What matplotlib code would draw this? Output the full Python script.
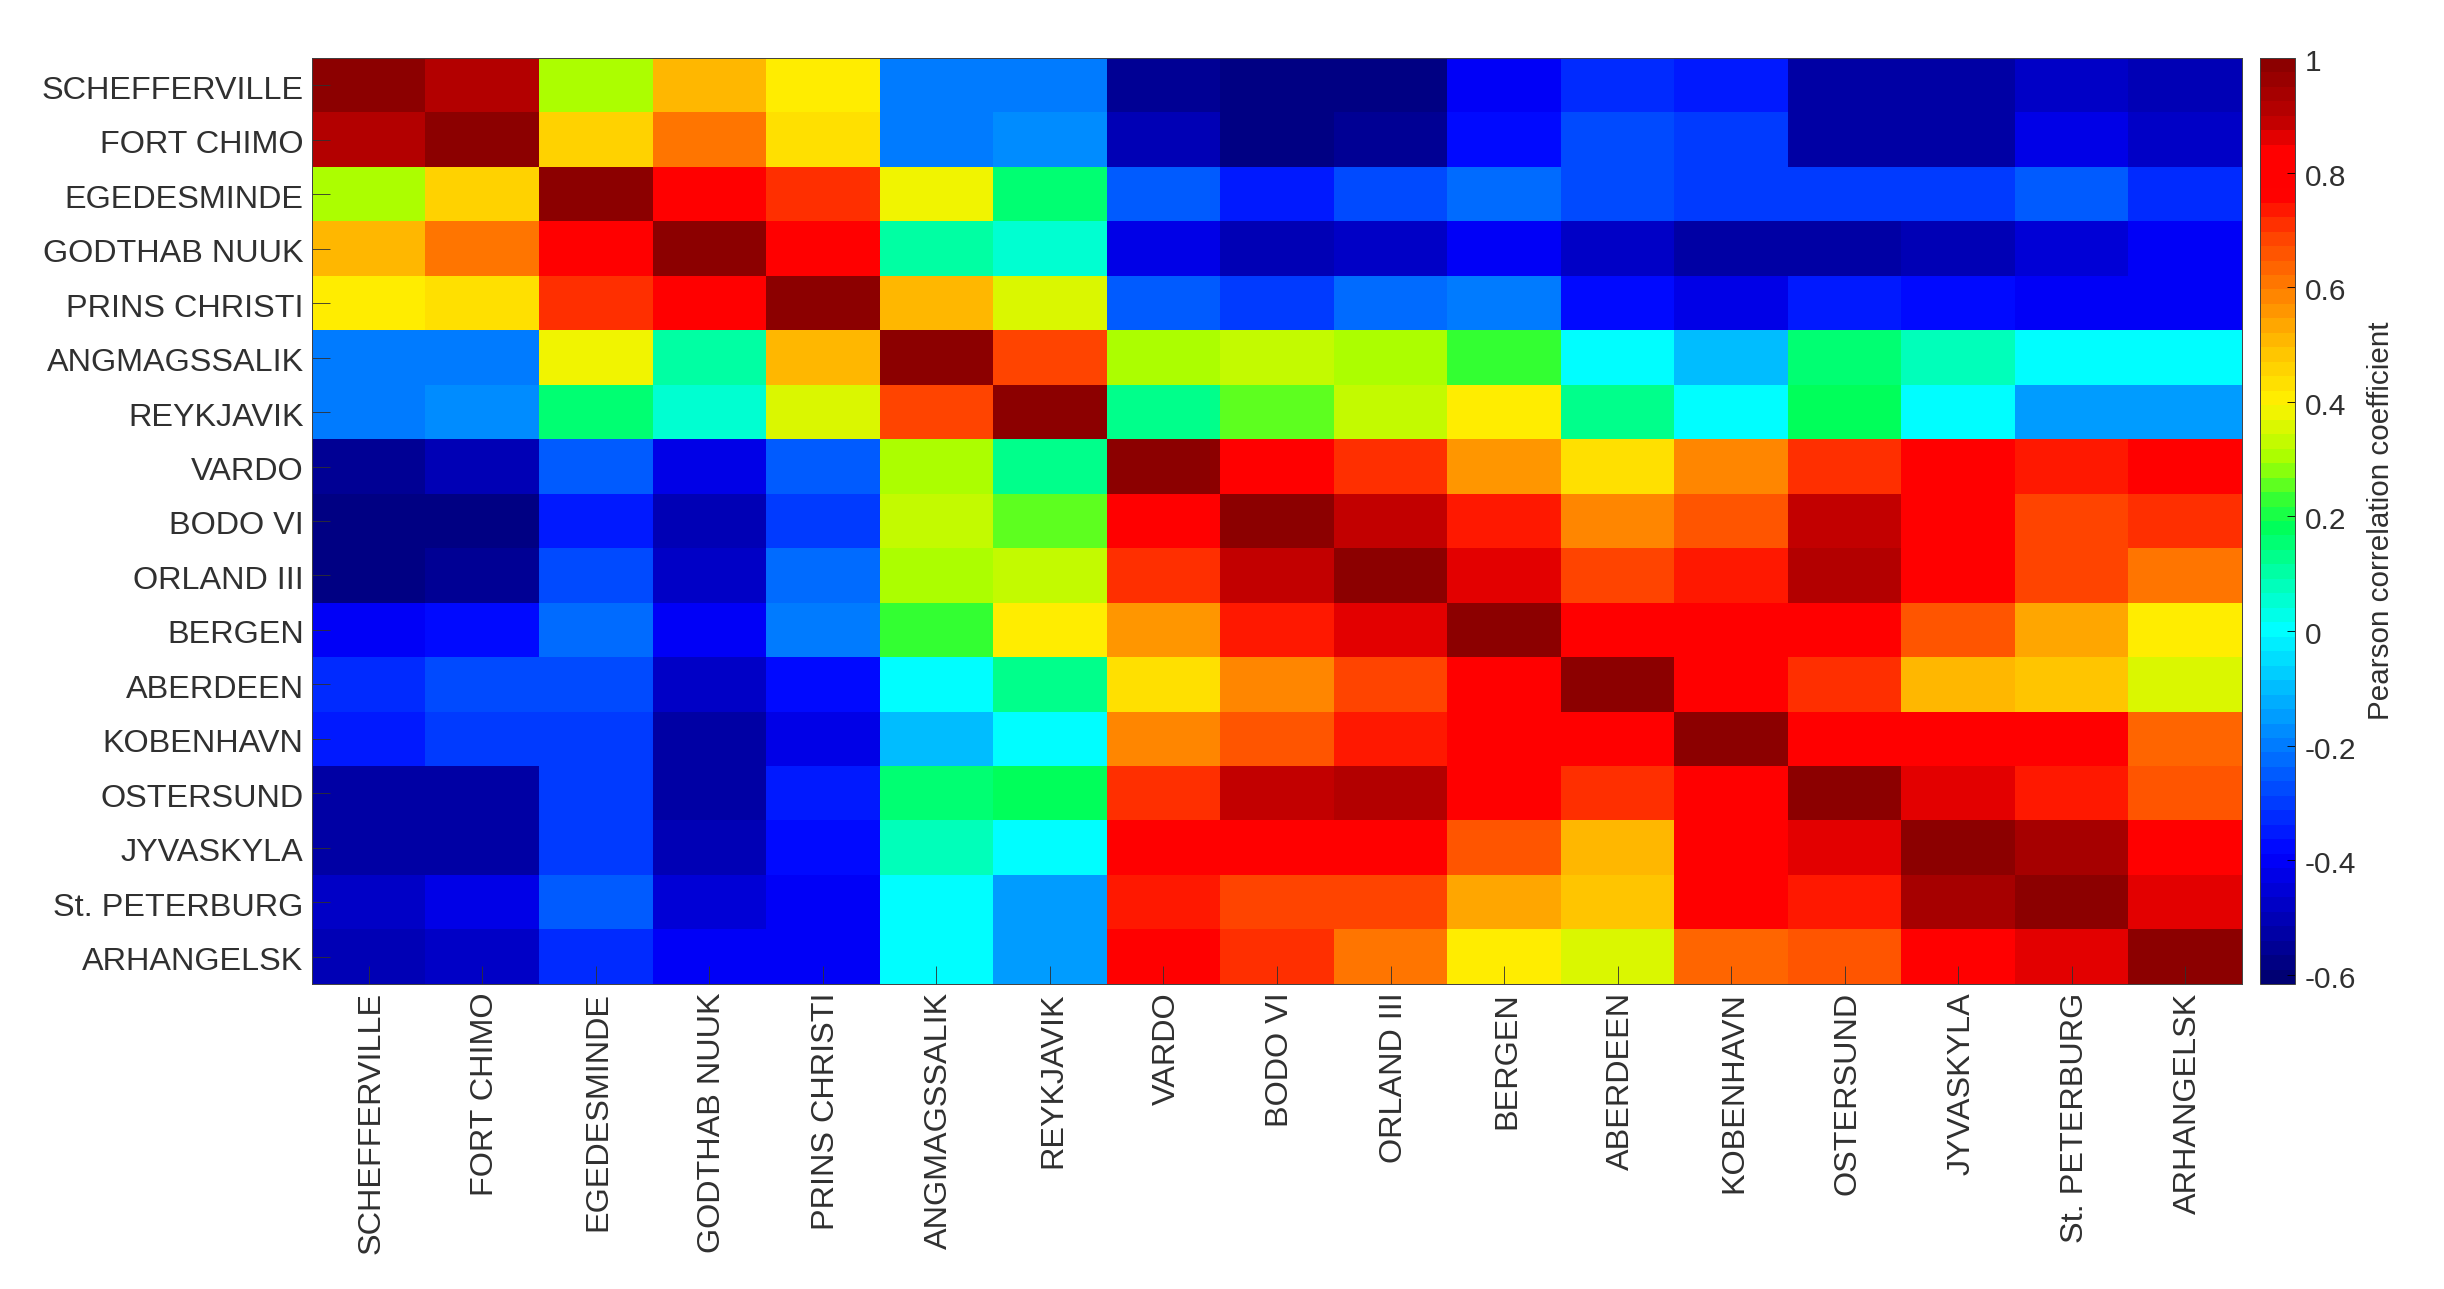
import matplotlib
matplotlib.use("Agg")
import matplotlib.pyplot as plt
from matplotlib.colors import LinearSegmentedColormap, Normalize
from matplotlib.transforms import ScaledTranslation
import numpy as np

plt.rcParams['font.family'] = ['Liberation Sans', 'DejaVu Sans']

stations = ["SCHEFFERVILLE", "FORT CHIMO", "EGEDESMINDE", "GODTHAB NUUK", "PRINS CHRISTI",
            "ANGMAGSSALIK", "REYKJAVIK", "VARDO", "BODO VI", "ORLAND III", "BERGEN",
            "ABERDEEN", "KOBENHAVN", "OSTERSUND", "JYVASKYLA", "St. PETERBURG", "ARHANGELSK"]

schefferville = [1, .9, .3, .5, .4, -.2, -.2, -.56, -.57, -.57, -.4, -.32, -.35, -.52, -.52, -.48, -.5]
fort_chimo = [.9, 1, .45, .6, .42, -.2, -.17, -.5, -.58, -.56, -.38, -.27, -.3, -.52, -.52, -.43, -.48]
egedesminde = [.3, .45, 1, .82, .72, .37, .16, -.26, -.35, -.27, -.22, -.28, -.3, -.3, -.3, -.25, -.32]
godthab = [.5, .6, .82, 1, .82, .1, .05, -.43, -.5, -.47, -.4, -.48, -.52, -.54, -.49, -.45, -.41]
prins = [.4, .42, .72, .82, 1, .5, .35, -.25, -.3, -.23, -.2, -.37, -.42, -.35, -.38, -.4, -.4]
angmagssalik = [-.2, -.2, .37, .1, .5, 1, .68, .3, .34, .3, .24, 0, -.1, .16, .08, 0, 0]
reykjavik = [-.2, -.17, .16, .05, .35, .68, 1, .14, .25, .33, .41, .14, 0, .17, 0, -.16, -.15]
vardo = [-.56, -.5, -.26, -.43, -.25, .3, .14, 1, .82, .71, .57, .42, .58, .72, .82, .74, .82]
bodo = [-.57, -.58, -.35, -.5, -.3, .34, .25, .82, 1, .88, .73, .58, .66, .88, .82, .68, .72]
orland = [-.57, -.56, -.27, -.47, -.23, .3, .33, .71, .88, 1, .85, .68, .73, .92, .82, .68, .62]
bergen = [-.4, -.38, -.22, -.4, -.2, .24, .41, .57, .73, .85, 1, .82, .82, .82, .65, .53, .4]
aberdeen = [-.32, -.27, -.28, -.48, -.37, 0, .14, .42, .58, .68, .82, 1, .82, .7, .52, .47, .36]
kobenhavn = [-.35, -.3, -.3, -.52, -.42, -.1, 0, .58, .66, .73, .82, .82, 1, .82, .82, .82, .63]
ostersund = [-.52, -.52, -.3, -.54, -.35, .16, .17, .72, .88, .92, .82, .7, .82, 1, .87, .74, .66]
jyvaskyla = [-.52, -.52, -.3, -.49, -.38, .08, 0, .82, .82, .82, .65, .52, .82, .87, 1, .93, .84]
st_peterburg = [-.48, -.43, -.25, -.45, -.4, 0, -.16, .74, .68, .68, .53, .47, .82, .74, .93, 1, .87]
arhangelsk = [-.5, -.48, -.32, -.41, -.4, 0, -.15, .82, .72, .62, .4, .36, .63, .66, .84, .87, 1]

corr = np.array([schefferville, fort_chimo, egedesminde, godthab, prins, angmagssalik, reykjavik,
                 vardo, bodo, orland, bergen, aberdeen, kobenhavn, ostersund, jyvaskyla,
                 st_peterburg, arhangelsk])

cbar_ticks = [-0.6, -0.4, -0.2, 0, 0.2, 0.4, 0.6, 0.8, 1]
cbar_labels = ["-0.6", "-0.4", "-0.2", "0", "0.2", "0.4", "0.6", "0.8", "1"]

# colours, it is not quite the stock jet
vmin, vmax = -0.616, 1
cmap_vals = [-0.616, -0.4, -0.2, 0, 0.1, 0.18, 0.23, 0.3, 0.4, 0.5, 0.6, 0.7, 0.77, 0.85, 0.9, 1]
cmap_cols = [(0, 0, 0.45), (0, 0, 1), (0, 0.5, 1), (0, 1, 1), (0, 1, 0.65), (0, 1, 0.35),
             (0.2, 1, 0.2), (0.65, 1, 0), (1, 0.95, 0), (1, 0.75, 0), (1, 0.5, 0), (1, 0.25, 0),
             (1, 0, 0), (1, 0, 0), (0.75, 0, 0), (0.55, 0, 0)]
stops = [(v - vmin) / (vmax - vmin) for v in cmap_vals]
cmap = LinearSegmentedColormap.from_list("ref_jet", list(zip(stops, cmap_cols)), N=64)

W, H = 2444, 1289
text_col = "#303030"
fig = plt.figure(figsize=(W / 100, H / 100), dpi=100)

ax = fig.add_axes([312 / W, 1 - 984 / H, (2242 - 312) / W, (984 - 58) / H])
im = ax.imshow(corr, cmap=cmap, norm=Normalize(vmin, vmax), aspect='auto', interpolation='nearest')

ax.set_xticks(range(len(stations)))
ax.set_xticklabels(stations, rotation=90, fontsize=23.3, color=text_col)
ax.set_yticks(range(len(stations)))
ax.set_yticklabels(stations, fontsize=23.3, color=text_col)
ax.tick_params(axis='x', direction='in', length=13, width=0.6, color='#303030', pad=6)
ax.tick_params(axis='y', direction='in', length=13, width=0.6, color='#303030', pad=6)
ax.tick_params(top=False, right=False)
for s in ax.spines.values():
    s.set_linewidth(0.7)
    s.set_color('#404040')

# nudge tick labels a little
for lab in ax.get_xticklabels():
    lab.set_transform(lab.get_transform() + ScaledTranslation(3 / 100, 0, fig.dpi_scale_trans))
for lab in ax.get_yticklabels():
    lab.set_transform(lab.get_transform() + ScaledTranslation(0, -2 / 100, fig.dpi_scale_trans))

# colorbar
cax = fig.add_axes([2260 / W, 1 - 984 / H, 35 / W, (984 - 58) / H])
cb = fig.colorbar(im, cax=cax)
cb.set_ticks(cbar_ticks)
cb.set_ticklabels(cbar_labels)
cb.ax.tick_params(labelsize=21.5, labelcolor=text_col, direction='in', length=6, width=0.6, pad=7)
cb.outline.set_linewidth(0.7)
cb.outline.set_edgecolor('#404040')
cb.set_label("Pearson correlation coefficient", fontsize=21.3, color=text_col, labelpad=8)
for lab in cb.ax.get_yticklabels():
    lab.set_transform(lab.get_transform() + ScaledTranslation(0, -2 / 100, fig.dpi_scale_trans))

fig.savefig("out.png", dpi=100)
